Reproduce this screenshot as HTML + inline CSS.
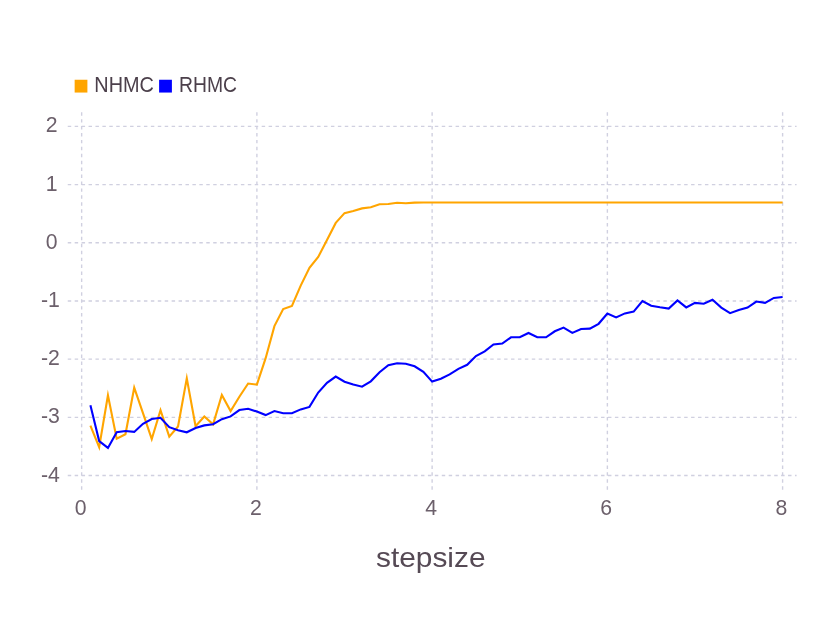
<!DOCTYPE html>
<html><head><meta charset="utf-8"><title>stepsize</title>
<style>
html,body{margin:0;padding:0;background:#fff;}
svg{display:block;will-change:transform;}
text{font-family:"Liberation Sans",sans-serif;}
</style></head>
<body>
<svg width="831" height="623" viewBox="0 0 831 623">
<rect width="831" height="623" fill="#ffffff"/>
<g fill="none" stroke="#d0d0e0" stroke-width="1.385" stroke-dasharray="3.463,3.463">
<path d="M67.75,126.38H796.6"/>
<path d="M67.75,184.57H796.6"/>
<path d="M67.75,242.76H796.6"/>
<path d="M67.75,300.95H796.6"/>
<path d="M67.75,359.14H796.6"/>
<path d="M67.75,417.33H796.6"/>
<path d="M67.75,475.52H796.6"/>
<path d="M81.65,112.2V489.67"/>
<path d="M256.89,112.2V489.67"/>
<path d="M432.13,112.2V489.67"/>
<path d="M607.37,112.2V489.67"/>
<path d="M782.61,112.2V489.67"/>
</g>
<g font-size="21.8" fill="#6c606b">
<text x="57.5" y="132.38" text-anchor="end" textLength="11.8" lengthAdjust="spacingAndGlyphs">2</text>
<text x="57.5" y="190.57" text-anchor="end" textLength="11.8" lengthAdjust="spacingAndGlyphs">1</text>
<text x="57.5" y="248.76" text-anchor="end" textLength="11.8" lengthAdjust="spacingAndGlyphs">0</text>
<text x="59.9" y="306.95" text-anchor="end" textLength="18.9" lengthAdjust="spacingAndGlyphs">-1</text>
<text x="59.9" y="365.14" text-anchor="end" textLength="18.9" lengthAdjust="spacingAndGlyphs">-2</text>
<text x="59.9" y="423.33" text-anchor="end" textLength="18.9" lengthAdjust="spacingAndGlyphs">-3</text>
<text x="59.9" y="481.52" text-anchor="end" textLength="18.9" lengthAdjust="spacingAndGlyphs">-4</text>
<text x="80.55" y="515.2" text-anchor="middle" textLength="11.8" lengthAdjust="spacingAndGlyphs">0</text>
<text x="255.79" y="515.2" text-anchor="middle" textLength="11.8" lengthAdjust="spacingAndGlyphs">2</text>
<text x="431.03" y="515.2" text-anchor="middle" textLength="11.8" lengthAdjust="spacingAndGlyphs">4</text>
<text x="606.27" y="515.2" text-anchor="middle" textLength="11.8" lengthAdjust="spacingAndGlyphs">6</text>
<text x="781.51" y="515.2" text-anchor="middle" textLength="11.8" lengthAdjust="spacingAndGlyphs">8</text>
</g>
<polyline fill="none" stroke="#ffa500" stroke-width="2.1" stroke-miterlimit="10" points="90.41,425.70 99.17,447.25 107.94,395.30 116.70,438.60 125.46,434.30 134.22,387.70 142.98,413.20 151.75,439.00 160.51,410.20 169.27,436.70 178.03,426.50 186.79,378.25 195.56,426.20 204.32,416.45 213.08,424.40 221.84,395.00 230.60,411.05 239.37,396.70 248.13,383.50 256.89,384.60 265.65,358.20 274.41,326.10 283.18,309.00 291.94,305.90 300.70,285.60 309.46,267.85 318.22,256.96 326.99,240.06 335.75,222.90 344.51,213.15 353.27,211.00 362.03,208.40 370.80,207.30 379.56,204.30 388.32,204.00 397.08,202.80 405.84,203.30 414.61,202.65 423.37,202.50 432.13,202.45 440.89,202.45 449.65,202.45 458.42,202.45 467.18,202.45 475.94,202.45 484.70,202.45 493.46,202.45 502.23,202.45 510.99,202.45 519.75,202.45 528.51,202.45 537.27,202.45 546.04,202.45 554.80,202.45 563.56,202.45 572.32,202.45 581.08,202.45 589.85,202.45 598.61,202.45 607.37,202.45 616.13,202.45 624.89,202.45 633.66,202.45 642.42,202.45 651.18,202.45 659.94,202.45 668.70,202.45 677.47,202.45 686.23,202.45 694.99,202.45 703.75,202.45 712.51,202.45 721.28,202.45 730.04,202.45 738.80,202.45 747.56,202.45 756.32,202.45 765.09,202.45 773.85,202.45 782.61,202.45"/>
<polyline fill="none" stroke="#0000ff" stroke-width="2.1" stroke-miterlimit="10" points="90.41,405.30 99.17,441.10 107.94,447.90 116.70,432.30 125.46,431.05 134.22,431.90 142.98,423.80 151.75,419.00 160.51,417.80 169.27,427.20 178.03,430.30 186.79,432.30 195.56,428.00 204.32,425.40 213.08,424.20 221.84,419.20 230.60,416.40 239.37,410.05 248.13,408.80 256.89,411.60 265.65,415.10 274.41,411.10 283.18,413.20 291.94,413.20 300.70,409.40 309.46,406.90 318.22,392.55 326.99,382.80 335.75,376.60 344.51,381.70 353.27,384.50 362.03,386.70 370.80,381.30 379.56,372.30 388.32,365.30 397.08,363.20 405.84,363.80 414.61,366.30 423.37,371.90 432.13,381.60 440.89,378.80 449.65,374.45 458.42,368.80 467.18,364.80 475.94,356.06 484.70,351.30 493.46,344.50 502.23,343.50 510.99,337.30 519.75,337.30 528.51,333.00 537.27,337.20 546.04,337.30 554.80,331.30 563.56,327.60 572.32,332.90 581.08,329.06 589.85,328.60 598.61,323.80 607.37,313.50 616.13,317.40 624.89,313.40 633.66,311.60 642.42,301.00 651.18,305.70 659.94,307.30 668.70,308.60 677.47,300.50 686.23,307.40 694.99,302.90 703.75,303.80 712.51,299.80 721.28,307.56 730.04,313.20 738.80,310.06 747.56,307.56 756.32,301.55 765.09,302.80 773.85,297.90 782.61,297.05"/>
<rect x="74.65" y="79.75" width="12.75" height="12.8" fill="#ffa500"/>
<rect x="159.1" y="79.75" width="12.8" height="12.8" fill="#0000ff"/>
<g font-size="21.6" fill="#4c404b">
<text x="94.3" y="92.1" textLength="59.6" lengthAdjust="spacingAndGlyphs">NHMC</text>
<text x="179.1" y="92.1" textLength="58.0" lengthAdjust="spacingAndGlyphs">RHMC</text>
</g>
<text x="376" y="567.3" font-size="28" fill="#564a55" textLength="109.5" lengthAdjust="spacingAndGlyphs">stepsize</text>
</svg>
</body></html>
